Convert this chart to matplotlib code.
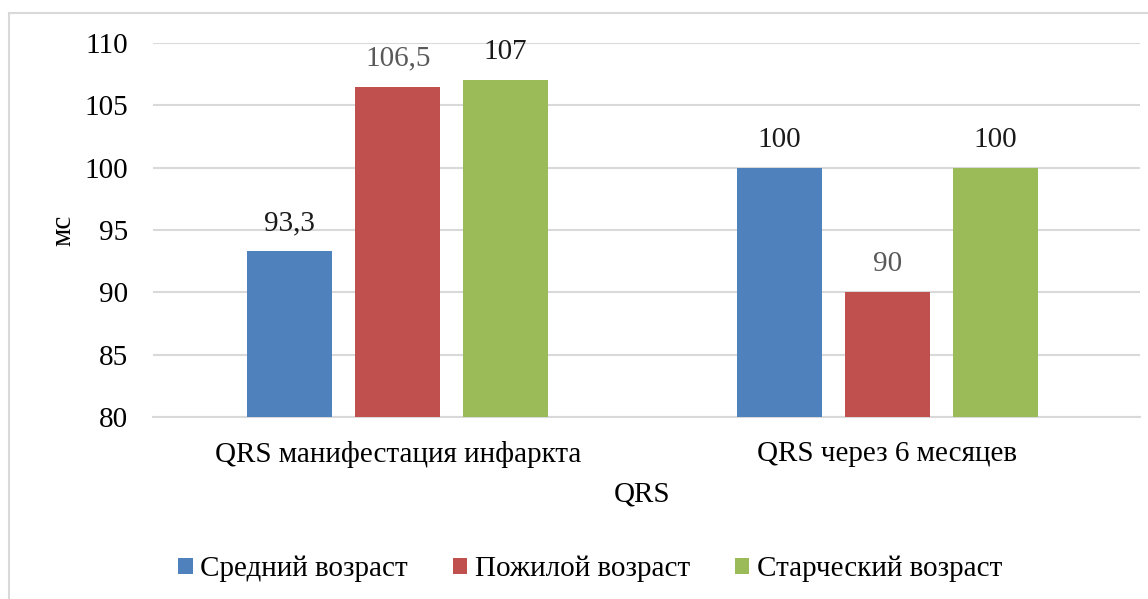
import matplotlib
matplotlib.use("Agg")
import matplotlib.pyplot as plt
import numpy as np
from matplotlib.patches import Rectangle

categories = ["QRS манифестация инфаркта", "QRS через 6 месяцев"]
series_names = ["Средний возраст", "Пожилой возраст", "Старческий возраст"]
srednij = [93.3, 100]
pozhiloj = [106.5, 90]
starcheskij = [107, 100]
labels_srednij = ["93,3", "100"]
labels_pozhiloj = ["106,5", "90"]
labels_starcheskij = ["107", "100"]
yticks = [80, 85, 90, 95, 100, 105, 110]

colors = ["#4F81BD", "#C0504D", "#9BBB59"]
label_colors = ["#1a1a1a", "#595959", "#1a1a1a"]

plt.rcParams['font.family'] = ['Liberation Serif', 'DejaVu Serif']
FS = 21

fig = plt.figure(figsize=(11.48, 5.99), dpi=100)
ax = fig.add_axes([153/1148, 1-417/599, (1140-153)/1148, (417-43)/599])

x = np.arange(len(categories))
w = 0.1736
step = 0.2206
data = [srednij, pozhiloj, starcheskij]
labs = [labels_srednij, labels_pozhiloj, labels_starcheskij]
for i, (vals, lb) in enumerate(zip(data, labs)):
    pos = x + (i - 1) * step
    ax.bar(pos, np.array(vals) - 80, bottom=80, width=w, color=colors[i],
           label=series_names[i], zorder=3)
    for p, v, t in zip(pos, vals, lb):
        ax.text(p, v + 1.2, t, ha='center', va='bottom', fontsize=FS, color=label_colors[i])

ax.set_xlim(-0.5, 1.5 + 8/489.5)
ax.set_ylim(80, 110)
ax.set_yticks(yticks)
ax.set_yticklabels([str(t) for t in yticks], fontsize=FS)
ax.set_xticks(x)
ax.set_xticklabels(categories, fontsize=FS)
ax.tick_params(axis='both', length=0)
ax.tick_params(axis='y', pad=18)
ax.tick_params(axis='x', pad=17)
ax.grid(axis='y', color='#D9D9D9', linewidth=1.5, zorder=0)
for s in ['top', 'right', 'left']:
    ax.spines[s].set_visible(False)
ax.spines['bottom'].set_color('#D9D9D9')
ax.spines['bottom'].set_linewidth(1.5)

ax.set_ylabel("мс", fontsize=FS)
ax.yaxis.set_label_coords(-(153-76)/987, 0.5)
ax.set_xlabel("QRS", fontsize=FS, va='center')
ax.xaxis.set_label_coords((642-153)/987, -(494-417)/374)

fig.legend(loc='center', bbox_to_anchor=(590/1148, 1-569/599), ncol=3,
           frameon=False, fontsize=FS, handlelength=0.5, handleheight=0.5,
           handletextpad=0.25, columnspacing=1.55)

fig.patches.append(Rectangle((9/1148, -0.1), 1.2, 1 - 13/599 + 0.1, transform=fig.transFigure,
                             fill=False, edgecolor='#D9D9D9', linewidth=1.5))

fig.savefig("out.png", dpi=100)
